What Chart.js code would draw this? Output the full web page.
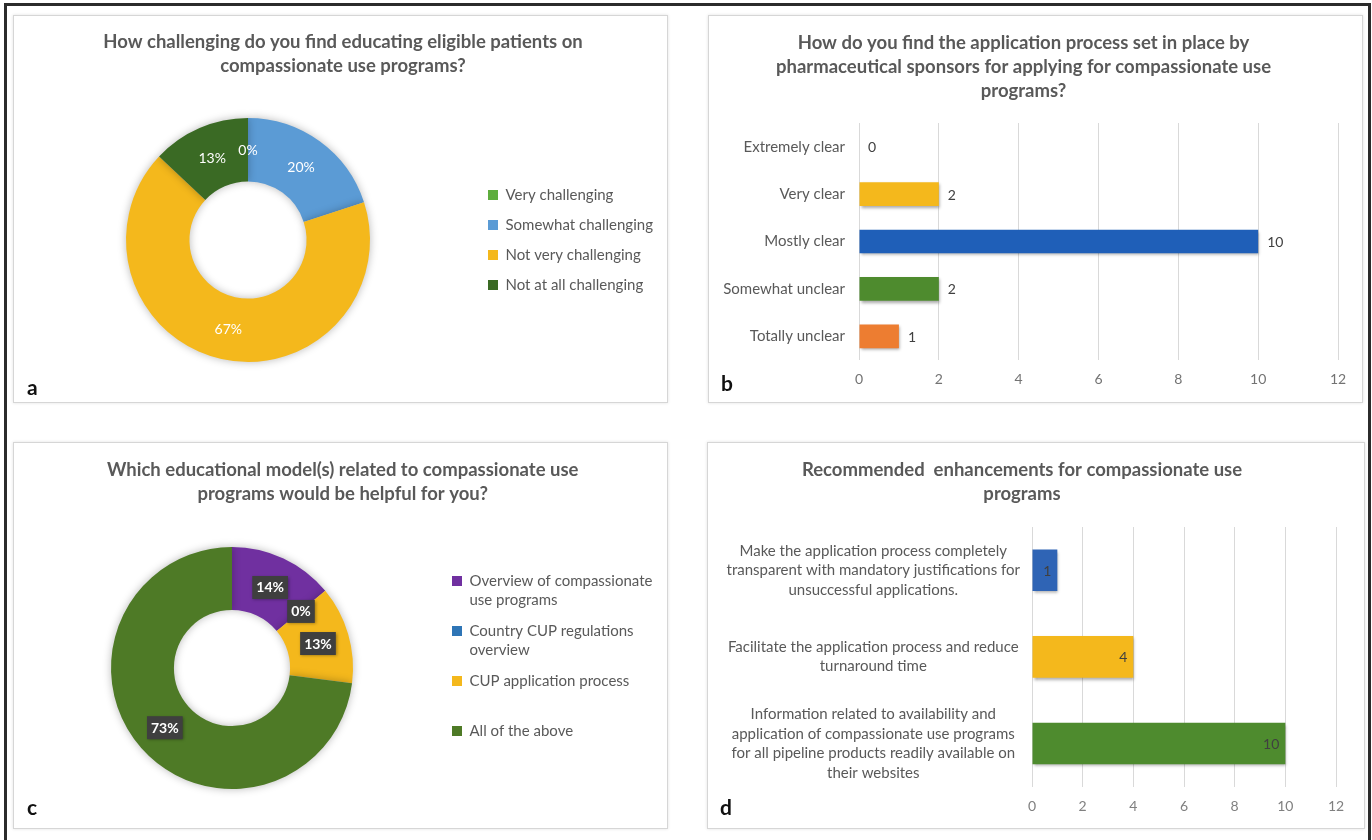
<!DOCTYPE html>
<html>
<head>
<meta charset="utf-8">
<script src="https://cdn.jsdelivr.net/npm/chart.js@4.4.1/dist/chart.umd.min.js"></script>
<style>
  body { margin: 0; background: #fff; width: 1372px; height: 840px; overflow: hidden; font-family: Lato, sans-serif; }
  .frame { position: absolute; left: 4px; top: 3px; width: 1361px; height: 845px; border: 3px solid #2b2b2b; border-bottom: none; }
  .panel { position: absolute; box-sizing: border-box; border: 1px solid #d6d6d6; box-shadow: 0 0 3px rgba(0,0,0,0.12); background: #fff; }
  .tag { position: absolute; font: bold 21px Lato, sans-serif; color: #111; }
</style>
</head>
<body>
<div class="frame"></div>
<div class="panel" style="left:13px;top:15px;width:655px;height:388px"><canvas id="chartA"></canvas></div>
<div class="panel" style="left:708px;top:15px;width:655px;height:388px"><canvas id="chartB"></canvas></div>
<div class="panel" style="left:13px;top:442px;width:655px;height:387px"><canvas id="chartC"></canvas></div>
<div class="panel" style="left:707px;top:442px;width:658px;height:387px"><canvas id="chartD"></canvas></div>
<span class="tag" style="left:27px;top:374px">a</span>
<span class="tag" style="left:721px;top:370px">b</span>
<span class="tag" style="left:27px;top:794px">c</span>
<span class="tag" style="left:720px;top:794px">d</span>
<script>
// panel a
const challengeLabels = ['Very challenging', 'Somewhat challenging', 'Not very challenging', 'Not at all challenging'];
const challengePct = [0, 20, 67, 13];
// panel b
const clarityLabels = ['Extremely clear', 'Very clear', 'Mostly clear', 'Somewhat unclear', 'Totally unclear'];
const clarityCounts = [0, 2, 10, 2, 1];
// panel c (every legend entry gets two line slots, like the original)
const modelLabels = [['Overview of compassionate', 'use programs'], ['Country CUP regulations', 'overview'], ['CUP application process', ''], ['All of the above', '']];
const modelPct = [14, 0, 13, 73];
// panel d
const enhanceLabels = [
  ['Make the application process completely', 'transparent with mandatory justifications for', 'unsuccessful applications.'],
  ['Facilitate the application process and reduce', 'turnaround time'],
  ['Information related to availability and', 'application of compassionate use programs', 'for all pipeline products readily available on', 'their websites']
];
const enhanceCounts = [1, 4, 10];
const countTicks = { min: 0, max: 12, step: 2 };

const GREY = '#595959';
Chart.defaults.font.family = 'Lato, sans-serif';
Chart.defaults.color = GREY;
Chart.defaults.animation = false;

function textWidth(str, font) {
  const c = document.createElement('canvas').getContext('2d');
  c.font = font;
  return c.measureText(str).width;
}

// soft shadow under the marks
const shadow = {
  id: 'shadow',
  beforeDatasetsDraw(chart, args, o) {
    const ctx = chart.ctx;
    ctx.save();
    ctx.shadowColor = o.color || 'rgba(0,0,0,0.3)';
    ctx.shadowBlur = o.blur || 5;
    ctx.shadowOffsetX = o.dx || 0;
    ctx.shadowOffsetY = o.dy || 0;
  },
  afterDatasetsDraw(chart) { chart.ctx.restore(); }
};

// data labels
const valueLabels = {
  id: 'valueLabels',
  afterDraw(chart, args, o) {
    const ctx = chart.ctx;
    const meta = chart.getDatasetMeta(0);
    const data = chart.data.datasets[0].data;
    ctx.save();
    ctx.font = o.font;
    ctx.textBaseline = 'middle';
    meta.data.forEach((el, i) => {
      const txt = data[i] + (o.suffix || '');
      let x = el.x, y = el.y, align = 'center';
      if (o.mode === 'arc') {
        const p = el.tooltipPosition();
        x = p.x; y = p.y;
      } else if (o.mode === 'outside') {
        x = el.x + 9; align = 'left';
      } else {
        x = el.x - 6; align = 'right';
      }
      if (o.box) {
        const w = ctx.measureText(txt).width + 8;
        ctx.save();
        ctx.shadowColor = 'rgba(0,0,0,0.35)';
        ctx.shadowBlur = 3;
        ctx.shadowOffsetX = 1;
        ctx.shadowOffsetY = 1;
        ctx.fillStyle = o.box;
        ctx.fillRect(x - w / 2, y - 11, w, 23);
        ctx.restore();
      }
      ctx.fillStyle = o.color;
      ctx.textAlign = align;
      ctx.fillText(txt, x, y + 1);
    });
    ctx.restore();
  }
};

const titleFont = { size: 18.5, weight: 'bold', lineHeight: '24px' };
const legendFont = { size: 15, lineHeight: 1.3 };

function donut(id, labels, values, colors, opt) {
  const canvas = document.getElementById(id);
  const W = canvas.parentNode.clientWidth;
  // make the legend start at opt.legendLeft
  const pad = opt.legendPad, box = 10;
  const longest = labels.map(l => Array.isArray(l) ? l.reduce((a, b) => a.length > b.length ? a : b) : l);
  const maxW = Math.max(...longest.map(s => textWidth(s, '15px Lato')));
  const legendW = pad + box + legendFont.size / 2 + maxW + 10;
  const padRight = Math.max(0, W - opt.legendLeft - legendW);
  const padLeft = 2 * opt.cx - opt.legendLeft;
  return new Chart(canvas, {
    type: 'doughnut',
    data: { labels: labels, datasets: [{ data: values, backgroundColor: colors, borderWidth: 0 }] },
    options: {
      maintainAspectRatio: false,
      cutout: '48%',
      layout: { padding: { left: padLeft, right: padRight, top: 0, bottom: opt.padBottom } },
      plugins: {
        title: { display: true, text: opt.title, color: GREY, font: titleFont, padding: { top: opt.titleTop, bottom: opt.titleBottom } },
        legend: {
          position: 'right',
          fullSize: false,
          labels: { boxWidth: box, boxHeight: box, padding: pad, color: GREY, font: legendFont }
        },
        tooltip: { enabled: false },
        shadow: { color: 'rgba(0,0,0,0.28)', blur: 9 },
        valueLabels: opt.labels
      }
    },
    plugins: [shadow, valueLabels]
  });
}

function hbar(id, labels, values, colors, opt) {
  return new Chart(document.getElementById(id), {
    type: 'bar',
    data: { labels: labels, datasets: [{ data: values, backgroundColor: colors, borderWidth: 0, barPercentage: opt.bar, categoryPercentage: 1 }] },
    options: {
      indexAxis: 'y',
      maintainAspectRatio: false,
      layout: { padding: { left: 0, right: opt.padRight, top: 0, bottom: 0 } },
      scales: {
        x: {
          min: countTicks.min, max: countTicks.max,
          ticks: { stepSize: countTicks.step, padding: 11, color: opt.tickColor, font: { size: 14 } },
          grid: { color: '#d9d9d9', drawTicks: false },
          border: { display: false },
          afterFit(s) { s.height = opt.xHeight; }
        },
        y: {
          ticks: { padding: opt.yPad, color: GREY, crossAlign: opt.cross, font: opt.yFont },
          grid: { display: false, drawTicks: false },
          border: { display: false },
          afterFit(s) { s.width = opt.yWidth; }
        }
      },
      plugins: {
        title: { display: true, text: opt.title, color: GREY, font: titleFont, padding: { top: opt.titleTop, bottom: opt.titleBottom } },
        legend: { display: false },
        tooltip: { enabled: false },
        shadow: { color: 'rgba(0,0,0,0.35)', blur: 3, dx: 1, dy: 2 },
        valueLabels: opt.labels
      }
    },
    plugins: [shadow, valueLabels]
  });
}

donut('chartA', challengeLabels, challengePct,
  ['#5EAD3E', '#5B9BD5', '#F4B81C', '#3A6A24'],
  {
    title: ['How challenging do you find educating eligible patients on', 'compassionate use programs?'],
    titleTop: 14, titleBottom: 40, padBottom: 40, cx: 234, legendLeft: 459, legendPad: 15,
    labels: { mode: 'arc', suffix: '%', font: '14px Lato', color: '#ffffff' }
  });

hbar('chartB', clarityLabels, clarityCounts,
  ['#A5A5A5', '#F4B81C', '#1F5FB8', '#4E8B2E', '#ED7D31'],
  {
    title: ['How do you find the application process set in place by', 'pharmaceutical sponsors for applying for compassionate use', 'programs?'],
    titleTop: 15, titleBottom: 20, padRight: 24, xHeight: 42, yWidth: 150, yPad: 14, cross: 'near',
    yFont: { size: 15 }, bar: 0.5, tickColor: '#737373',
    labels: { mode: 'outside', font: '14px Lato', color: '#404040' }
  });

donut('chartC', modelLabels, modelPct,
  ['#7030A0', '#2E75B6', '#F4B81C', '#4E7A26'],
  {
    title: ['Which educational model(s) related to compassionate use', 'programs would be helpful for you?'],
    titleTop: 15, titleBottom: 41, padBottom: 39, cx: 218, legendLeft: 427, legendPad: 11,
    labels: { mode: 'arc', suffix: '%', font: 'bold 14px Lato', color: '#ffffff', box: '#3f3f3f' }
  });

hbar('chartD', enhanceLabels, enhanceCounts,
  ['#2F64B5', '#F4B81C', '#4E8B2E'],
  {
    title: ['Recommended  enhancements for compassionate use', 'programs'],
    titleTop: 15, titleBottom: 21, padRight: 28, xHeight: 38, yWidth: 324, yPad: 12, cross: 'center',
    yFont: { size: 15, lineHeight: 1.3 }, bar: 0.48, tickColor: '#808080',
    labels: { mode: 'inside', font: '14px Lato', color: '#404040' }
  });
</script>
</body>
</html>
